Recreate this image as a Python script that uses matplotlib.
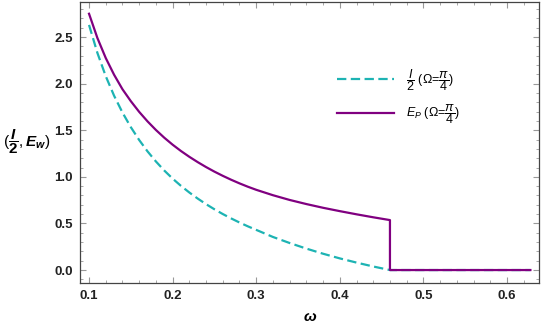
import matplotlib
matplotlib.use('Agg')
import matplotlib.pyplot as plt
from matplotlib.ticker import MultipleLocator

plt.rcParams['font.family'] = ['Liberation Sans', 'DejaVu Sans']
plt.rcParams['mathtext.fontset'] = 'custom'
plt.rcParams['mathtext.rm'] = 'Liberation Sans'
plt.rcParams['mathtext.it'] = 'Liberation Sans:italic'
plt.rcParams['mathtext.bf'] = 'Liberation Sans:bold'
plt.rcParams['mathtext.bfit'] = 'Liberation Sans:bold:italic'

# values
omega = [0.10, 0.11, 0.12, 0.13, 0.14, 0.15, 0.16, 0.17, 0.18, 0.19, 0.20,
         0.21, 0.22, 0.23, 0.24, 0.25, 0.26, 0.27, 0.28, 0.29, 0.30,
         0.32, 0.34, 0.36, 0.38, 0.40, 0.42, 0.44, 0.46]
half_I = [2.63, 2.33, 2.08, 1.87, 1.69, 1.533, 1.395, 1.273, 1.165, 1.068,
          0.981, 0.903, 0.832, 0.767, 0.707, 0.652, 0.601, 0.554, 0.510,
          0.469, 0.431, 0.355, 0.29, 0.23, 0.175, 0.125, 0.08, 0.038, 0.0]
E_P = [2.75, 2.49, 2.275, 2.095, 1.94, 1.812, 1.697, 1.595, 1.503, 1.42,
       1.345, 1.277, 1.215, 1.158, 1.105, 1.056, 1.011, 0.969, 0.930, 0.894,
       0.861, 0.803, 0.752, 0.708, 0.668, 0.632, 0.598, 0.566, 0.536]

# after the cut-off both quantities sit at zero
omega_cut = 0.46
omega_end = 0.628

cyan = '#1db3b3'
purple = '#800080'

fig = plt.figure(figsize=(5.42, 3.30), dpi=100)
ax = fig.add_axes([80 / 542, 47 / 330, 459 / 542, 281 / 330])

ax.plot(omega + [omega_end], half_I + [0.0], color=cyan, lw=1.6,
        dashes=(4.2, 2.0),
        label=r'$\dfrac{I}{2}$ ($\Omega$=$\dfrac{\pi}{4}$)')
ax.plot(omega + [omega_cut, omega_end], E_P + [0.0, 0.0], color=purple,
        lw=1.6, label=r'$E_P$ ($\Omega$=$\dfrac{\pi}{4}$)')

ax.set_xlim(0.0892, 0.6383)
ax.set_ylim(-0.139, 2.876)
ax.xaxis.set_major_locator(MultipleLocator(0.1))
ax.xaxis.set_minor_locator(MultipleLocator(0.02))
ax.yaxis.set_major_locator(MultipleLocator(0.5))
ax.yaxis.set_minor_locator(MultipleLocator(0.1))
ax.tick_params(which='both', direction='in', top=True, right=True,
               color='#999999', labelsize=9.5, pad=5)
ax.tick_params(which='major', length=4, width=0.8)
ax.tick_params(which='minor', length=2.2, width=0.6)
for lab in ax.get_xticklabels() + ax.get_yticklabels():
    lab.set_fontweight('bold')
    lab.set_color('#222222')
for sp in ax.spines.values():
    sp.set_color('#444444')
    sp.set_linewidth(0.9)

ax.set_xlabel('ω', fontsize=11, fontweight='bold', fontstyle='italic',
              labelpad=6)
fig.text(3 / 542, 1 - 142 / 330,
         r'$(\dfrac{\mathbfit{I}}{\mathbf{2}},\mathbfit{E}_{\mathbfit{w}})$',
         fontsize=11, ha='left', va='center')

ax.legend(loc='upper left', bbox_to_anchor=(0.535, 0.81), frameon=False,
          fontsize=9, handlelength=4.6, handletextpad=0.9, labelspacing=0.8)

fig.savefig('out.png', dpi=100)
